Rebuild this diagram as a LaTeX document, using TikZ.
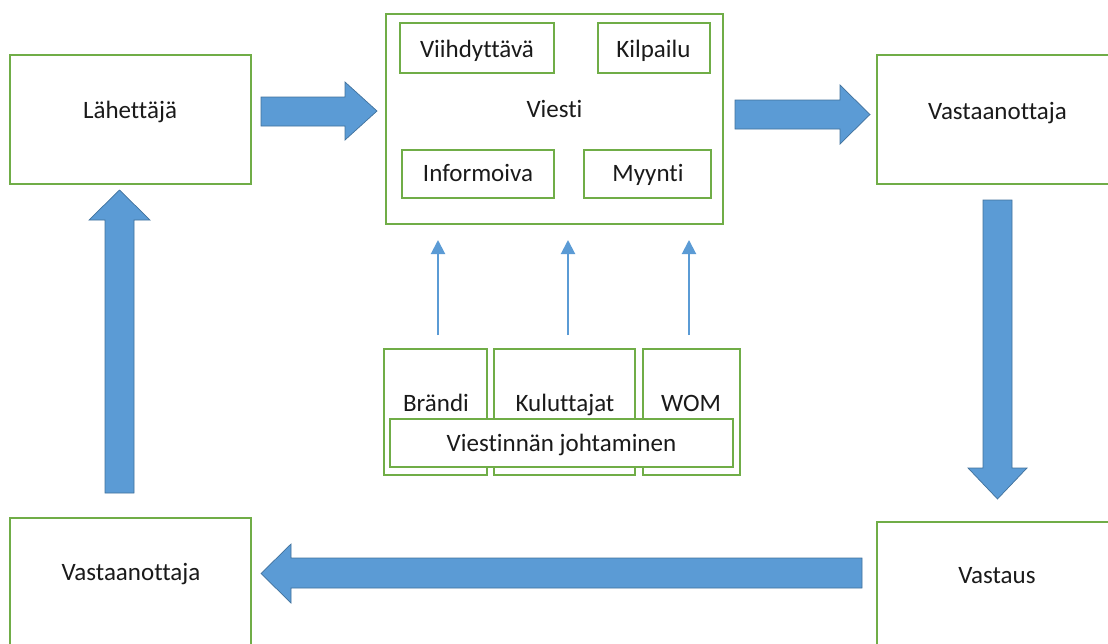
\documentclass[tikz,border=0pt]{standalone}
\usepackage{fontspec}
\setmainfont{Carlito}[Ligatures={NoCommon,NoRare,NoContextual}]
\usetikzlibrary{arrows.meta}
\definecolor{grn}{HTML}{70AD47}
\definecolor{blu}{HTML}{5B9BD5}
\definecolor{bluedge}{HTML}{41719C}
\definecolor{txt}{HTML}{1A1A1A}
\begin{document}
\begin{tikzpicture}[x=1pt,y=-1pt,
  box/.style={draw=grn, line width=2.7pt, fill=white, inner sep=0pt, outer sep=0pt},
  lbl/.style={font=\fontsize{25}{30}\selectfont, text=txt, anchor=base, inner sep=0pt},
  blockarrow/.style={fill=blu, draw=bluedge, line width=0.7pt, line join=miter},
  thinarrow/.style={draw=blu, line width=2pt, -{Triangle[length=14pt,width=14pt]}}]
\useasboundingbox (0,0) rectangle (1108,643);
\clip (0,0) rectangle (1108,643);

% main boxes
\node[box, minimum width=241pt, minimum height=129pt] (send) at (130.5,119.5) {};
\node[box, minimum width=263pt, minimum height=129pt] (rec1) at (1008.5,119.5) {};
\node[box, minimum width=263pt, minimum height=158pt] (resp) at (1008.5,601) {};
\node[box, minimum width=241pt, minimum height=162pt] (rec2) at (130.5,599) {};

% message box
\node[box, minimum width=337pt, minimum height=210pt] (viesti) at (554.5,119) {};
\node[box, minimum width=154pt, minimum height=50pt] (viih) at (477,48) {};
\node[box, minimum width=112pt, minimum height=50pt] (kilp) at (654,48) {};
\node[box, minimum width=152pt, minimum height=48pt] (info) at (478,174) {};
\node[box, minimum width=127pt, minimum height=48pt] (myyn) at (647.5,174) {};

% management group
\node[box, minimum width=103pt, minimum height=126pt] (brandi) at (435.5,412) {};
\node[box, minimum width=141pt, minimum height=126pt] (kulut) at (564.5,412) {};
\node[box, minimum width=97pt, minimum height=126pt] (wom) at (691.5,412) {};
\node[box, minimum width=343pt, minimum height=48pt] (vj) at (561.5,443) {};

% texts
\node[lbl] (tsend) at (130,118) {Lähettäjä};
\node[lbl] (trec1) at (997.5,119) {Vastaanottaja};
\node[lbl] (tviih) at (477,57) {Viihdyttävä};
\node[lbl] (tkilp) at (653.5,57) {Kilpailu};
\node[lbl] (tviesti) at (554.5,117) {Viesti};
\node[lbl] (tinfo) at (478,181) {Informoiva};
\node[lbl] (tmyyn) at (648,181) {Myynti};
\node[lbl] (tbrandi) at (436,411) {Brändi};
\node[lbl] (tkulut) at (565,411) {Kuluttajat};
\node[lbl] (twom) at (691,411) {WOM};
\node[lbl] (tvj) at (561.5,451) {Viestinnän johtaminen};
\node[lbl] (tresp) at (997,583) {Vastaus};
\node[lbl] (trec2) at (131,580) {Vastaanottaja};

% block arrows
\draw[blockarrow] (261,97) -- (345,97) -- (345,82) -- (377,111) -- (345,140) -- (345,126) -- (261,126) -- cycle;
\draw[blockarrow] (735,100) -- (840,100) -- (840,85) -- (870,114.5) -- (840,144) -- (840,129) -- (735,129) -- cycle;
\draw[blockarrow] (983,200) -- (1012,200) -- (1012,468) -- (1027,468) -- (997.5,499) -- (968,468) -- (983,468) -- cycle;
\draw[blockarrow] (862,558) -- (291,558) -- (291,544) -- (261,573.5) -- (291,603) -- (291,588) -- (862,588) -- cycle;
\draw[blockarrow] (105,493) -- (105,220) -- (89,220) -- (119.5,190) -- (150,220) -- (134,220) -- (134,493) -- cycle;

% thin arrows
\coordinate (s1) at (438,335); \coordinate (e1) at (438,240);
\coordinate (s2) at (568,335); \coordinate (e2) at (568,240);
\coordinate (s3) at (689,335); \coordinate (e3) at (689,240);
\draw[thinarrow] (s1) -- (e1);
\draw[thinarrow] (s2) -- (e2);
\draw[thinarrow] (s3) -- (e3);
\end{tikzpicture}
\end{document}
